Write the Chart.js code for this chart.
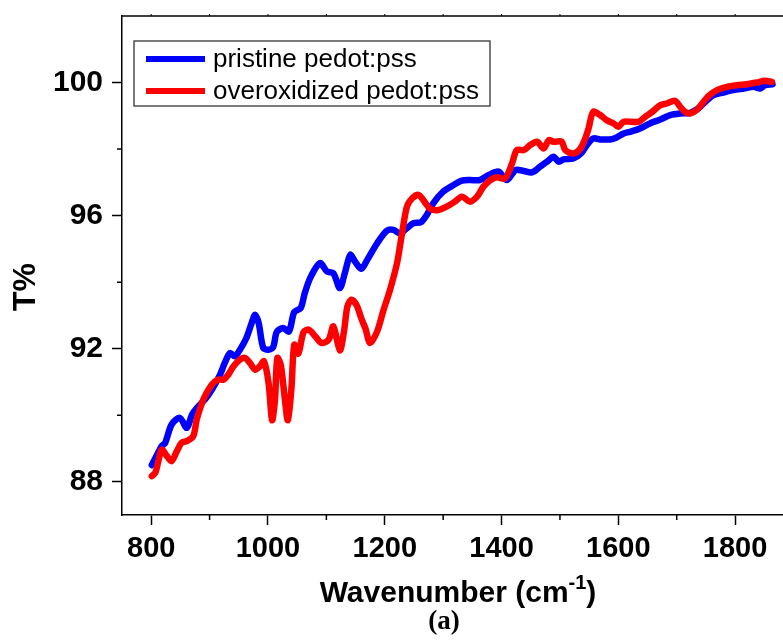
<!DOCTYPE html>
<html>
<head>
<meta charset="utf-8">
<script src="https://cdn.jsdelivr.net/npm/chart.js@4.4.1/dist/chart.umd.min.js"></script>
<style>
  body { margin: 0; background: #fff; }
  canvas { display: block; }
</style>
</head>
<body>
<canvas id="chart" width="783" height="644"></canvas>
<script>
// wavenumber (cm-1) and T%
const pristineWn = [801, 809, 818, 824, 835, 849, 861, 870, 881, 892, 904, 918, 926, 935, 943, 952, 963, 972, 978, 984,
  992, 1001, 1009, 1015, 1026, 1036, 1045, 1056, 1063, 1073, 1089, 1101, 1112, 1123, 1132, 1141, 1149, 1160, 1170, 1187,
  1204, 1215, 1226, 1238, 1249, 1262, 1272, 1283, 1300, 1318, 1332, 1346, 1363, 1378, 1395, 1409, 1424, 1438, 1452, 1466,
  1478, 1489, 1498, 1506, 1523, 1536, 1546, 1557, 1569, 1586, 1597, 1609, 1620, 1637, 1654, 1672, 1689, 1706, 1723, 1737,
  1749, 1763, 1780, 1797, 1815, 1832, 1843, 1851, 1864];
const pristineT = [88.50, 88.77, 89.07, 89.17, 89.72, 89.92, 89.62, 90.02, 90.27, 90.47, 90.77, 91.22, 91.57, 91.87, 91.77, 91.97, 92.32, 92.77, 93.02, 92.77,
  92.02, 91.97, 92.05, 92.50, 92.62, 92.52, 93.10, 93.22, 93.67, 94.15, 94.57, 94.32, 94.27, 93.82, 94.30, 94.82, 94.62, 94.40, 94.67, 95.17,
  95.55, 95.57, 95.47, 95.62, 95.77, 95.80, 96.02, 96.37, 96.72, 96.92, 97.05, 97.07, 97.07, 97.22, 97.32, 97.07, 97.37, 97.34, 97.30, 97.47,
  97.62, 97.77, 97.62, 97.69, 97.72, 97.87, 98.12, 98.32, 98.29, 98.29, 98.35, 98.47, 98.52, 98.62, 98.77, 98.89, 99.02, 99.07, 99.09, 99.22,
  99.42, 99.62, 99.70, 99.77, 99.82, 99.87, 99.82, 99.92, 99.95];

const oxidizedWn = [801, 807, 813, 818, 827, 835, 844, 852, 861, 872, 878, 887, 895, 904, 915, 924, 932, 941, 952, 961,
  969, 978, 986, 993, 1001, 1007, 1012, 1016, 1022, 1029, 1034, 1040, 1045, 1052, 1061, 1070, 1082, 1092, 1104, 1112,
  1123, 1130, 1136, 1143, 1152, 1160, 1167, 1175, 1187, 1198, 1209, 1221, 1229, 1238, 1247, 1258, 1270, 1278, 1292, 1306,
  1320, 1332, 1346, 1358, 1369, 1381, 1392, 1406, 1418, 1426, 1438, 1449, 1461, 1472, 1481, 1489, 1503, 1509, 1523, 1534,
  1543, 1549, 1557, 1569, 1580, 1592, 1600, 1609, 1623, 1635, 1646, 1658, 1672, 1683, 1697, 1706, 1714, 1723, 1734, 1746,
  1754, 1769, 1786, 1803, 1820, 1837, 1851, 1863];
const oxidizedT = [88.17, 88.27, 88.67, 88.97, 88.77, 88.62, 88.92, 89.17, 89.22, 89.37, 89.87, 90.37, 90.67, 90.92, 91.07, 91.07, 91.22, 91.47, 91.67, 91.72,
  91.57, 91.37, 91.47, 91.62, 90.97, 89.85, 90.47, 91.72, 91.50, 90.47, 89.85, 90.77, 92.12, 91.85, 92.50, 92.57, 92.35, 92.17, 92.27, 92.67,
  91.95, 92.50, 93.27, 93.47, 93.30, 92.90, 92.60, 92.17, 92.52, 93.17, 93.77, 94.57, 95.40, 96.27, 96.52, 96.62, 96.37, 96.20, 96.17, 96.27,
  96.42, 96.57, 96.42, 96.57, 96.87, 97.07, 97.15, 97.12, 97.57, 97.97, 97.97, 98.12, 98.22, 98.02, 98.27, 98.22, 98.22, 97.97, 97.87, 97.99,
  98.30, 98.62, 99.12, 99.02, 98.87, 98.77, 98.67, 98.82, 98.82, 98.82, 98.97, 99.12, 99.32, 99.37, 99.45, 99.27, 99.12, 99.07, 99.17, 99.42,
  99.59, 99.77, 99.87, 99.92, 99.95, 100.00, 100.05, 100.02];

const xTickValues = [800, 900, 1000, 1100, 1200, 1300, 1400, 1500, 1600, 1700, 1800];
const yTickValues = [88, 90, 92, 94, 96, 98, 100];
const seriesLabels = ['pristine pedot:pss', 'overoxidized pedot:pss'];

const FONT = '"Liberation Sans", Arial, sans-serif';

const isMajorX = v => v % 200 === 0;
const isMajorY = v => v % 4 === 0;

const extras = {
    id: 'extras',
    afterDraw(chart) {
        const ctx = chart.ctx;
        const {left, right, top, bottom} = chart.chartArea;
        const xs = chart.scales.x, ys = chart.scales.y;
        ctx.save();
        ctx.strokeStyle = '#000';
        ctx.lineWidth = 1.5;
        // top frame line
        ctx.beginPath();
        ctx.moveTo(left, top);
        ctx.lineTo(right, top);
        ctx.stroke();
        // minor ticks
        ctx.beginPath();
        xTickValues.filter(v => !isMajorX(v)).forEach(v => {
            const px = xs.getPixelForValue(v);
            ctx.moveTo(px, bottom);
            ctx.lineTo(px, bottom + 5);
        });
        yTickValues.filter(v => !isMajorY(v)).forEach(v => {
            const py = ys.getPixelForValue(v);
            ctx.moveTo(left, py);
            ctx.lineTo(left - 5, py);
        });
        ctx.stroke();
        // tiny marks on top line
        ctx.lineWidth = 1;
        ctx.beginPath();
        xTickValues.forEach(v => {
            const px = xs.getPixelForValue(v);
            ctx.moveTo(px, top);
            ctx.lineTo(px, top - 2);
        });
        ctx.stroke();

        // legend box
        ctx.lineWidth = 1.2;
        ctx.strokeStyle = '#222';
        ctx.strokeRect(134, 41, 356, 65);
        chart.data.datasets.forEach((ds, i) => {
            const ly = 59 + i * 32;
            ctx.strokeStyle = ds.borderColor;
            ctx.lineWidth = 6;
            ctx.beginPath();
            ctx.moveTo(146, ly);
            ctx.lineTo(205, ly);
            ctx.stroke();
            ctx.fillStyle = '#000';
            ctx.font = '26px ' + FONT;
            ctx.textAlign = 'left';
            ctx.textBaseline = 'middle';
            ctx.fillText(ds.label, 213, ly + 1);
        });

        // y title
        ctx.fillStyle = '#000';
        ctx.save();
        ctx.translate(26, 287);
        ctx.rotate(-Math.PI / 2);
        ctx.font = 'bold 32px ' + FONT;
        ctx.textAlign = 'center';
        ctx.textBaseline = 'middle';
        ctx.fillText('T%', 0, 0);
        ctx.restore();

        // x title with superscript
        const mainFont = 'bold 30px ' + FONT;
        const supFont = 'bold 20px ' + FONT;
        ctx.textAlign = 'left';
        ctx.textBaseline = 'alphabetic';
        ctx.font = mainFont;
        const w1 = ctx.measureText('Wavenumber (cm').width;
        const w3 = ctx.measureText(')').width;
        ctx.font = supFont;
        const w2 = ctx.measureText('-1').width;
        let tx = 458 - (w1 + w2 + w3) / 2;
        const base = 602;
        ctx.font = mainFont;
        ctx.fillText('Wavenumber (cm', tx, base);
        tx += w1;
        ctx.font = supFont;
        ctx.fillText('-1', tx, base - 13);
        tx += w2;
        ctx.font = mainFont;
        ctx.fillText(')', tx, base);

        // panel label
        ctx.font = 'bold 27px "Liberation Serif", "Times New Roman", serif';
        ctx.textAlign = 'center';
        ctx.textBaseline = 'middle';
        ctx.fillText('(a)', 444, 622);
        ctx.restore();
    }
};

const toPoints = (xsArr, ysArr) => xsArr.map((x, i) => ({x: x, y: ysArr[i]}));

const chart = new Chart(document.getElementById('chart').getContext('2d'), {
    type: 'line',
    data: {
        datasets: [{
            label: seriesLabels[0],
            data: toPoints(pristineWn, pristineT),
            borderColor: '#0000ff',
            backgroundColor: '#0000ff',
            order: 2
        }, {
            label: seriesLabels[1],
            data: toPoints(oxidizedWn, oxidizedT),
            borderColor: '#ff0000',
            backgroundColor: '#ff0000',
            order: 1
        }]
    },
    plugins: [extras],
    options: {
        responsive: false,
        animation: false,
        layout: {
            padding: {top: 16, left: 0, right: 0, bottom: 0}
        },
        elements: {
            line: {
                borderWidth: 6.5,
                tension: 0.3,
                fill: false,
                borderCapStyle: 'round',
                borderJoinStyle: 'round'
            },
            point: {radius: 0}
        },
        scales: {
            x: {
                type: 'linear',
                min: 750,
                max: 1882,
                afterBuildTicks: s => { s.ticks = xTickValues.map(v => ({value: v})); },
                afterFit: s => { s.height = 129; s.paddingLeft = 0; s.paddingRight = 0; },
                border: {display: true, color: '#000', width: 1.5},
                grid: {
                    drawOnChartArea: false,
                    tickLength: 10,
                    tickWidth: 1.5,
                    tickColor: c => (c.tick && isMajorX(c.tick.value)) ? '#000' : 'rgba(0,0,0,0)'
                },
                ticks: {
                    color: '#000',
                    padding: 7,
                    maxRotation: 0,
                    autoSkip: false,
                    font: {family: FONT, size: 29, weight: 'bold'},
                    callback: v => isMajorX(v) ? String(v) : ''
                }
            },
            y: {
                min: 87,
                max: 102,
                afterBuildTicks: s => { s.ticks = yTickValues.map(v => ({value: v})); },
                afterFit: s => { s.width = 122; s.paddingTop = 0; s.paddingBottom = 0; },
                border: {display: true, color: '#000', width: 1.5},
                grid: {
                    drawOnChartArea: false,
                    tickLength: 10,
                    tickWidth: 1.5,
                    tickColor: c => (c.tick && isMajorY(c.tick.value)) ? '#000' : 'rgba(0,0,0,0)'
                },
                ticks: {
                    color: '#000',
                    padding: 9,
                    autoSkip: false,
                    font: {family: FONT, size: 30, weight: 'bold'},
                    callback: v => isMajorY(v) ? String(v) : ''
                }
            }
        },
        plugins: {
            legend: {display: false},
            tooltip: {enabled: false}
        }
    }
});
</script>
</body>
</html>
